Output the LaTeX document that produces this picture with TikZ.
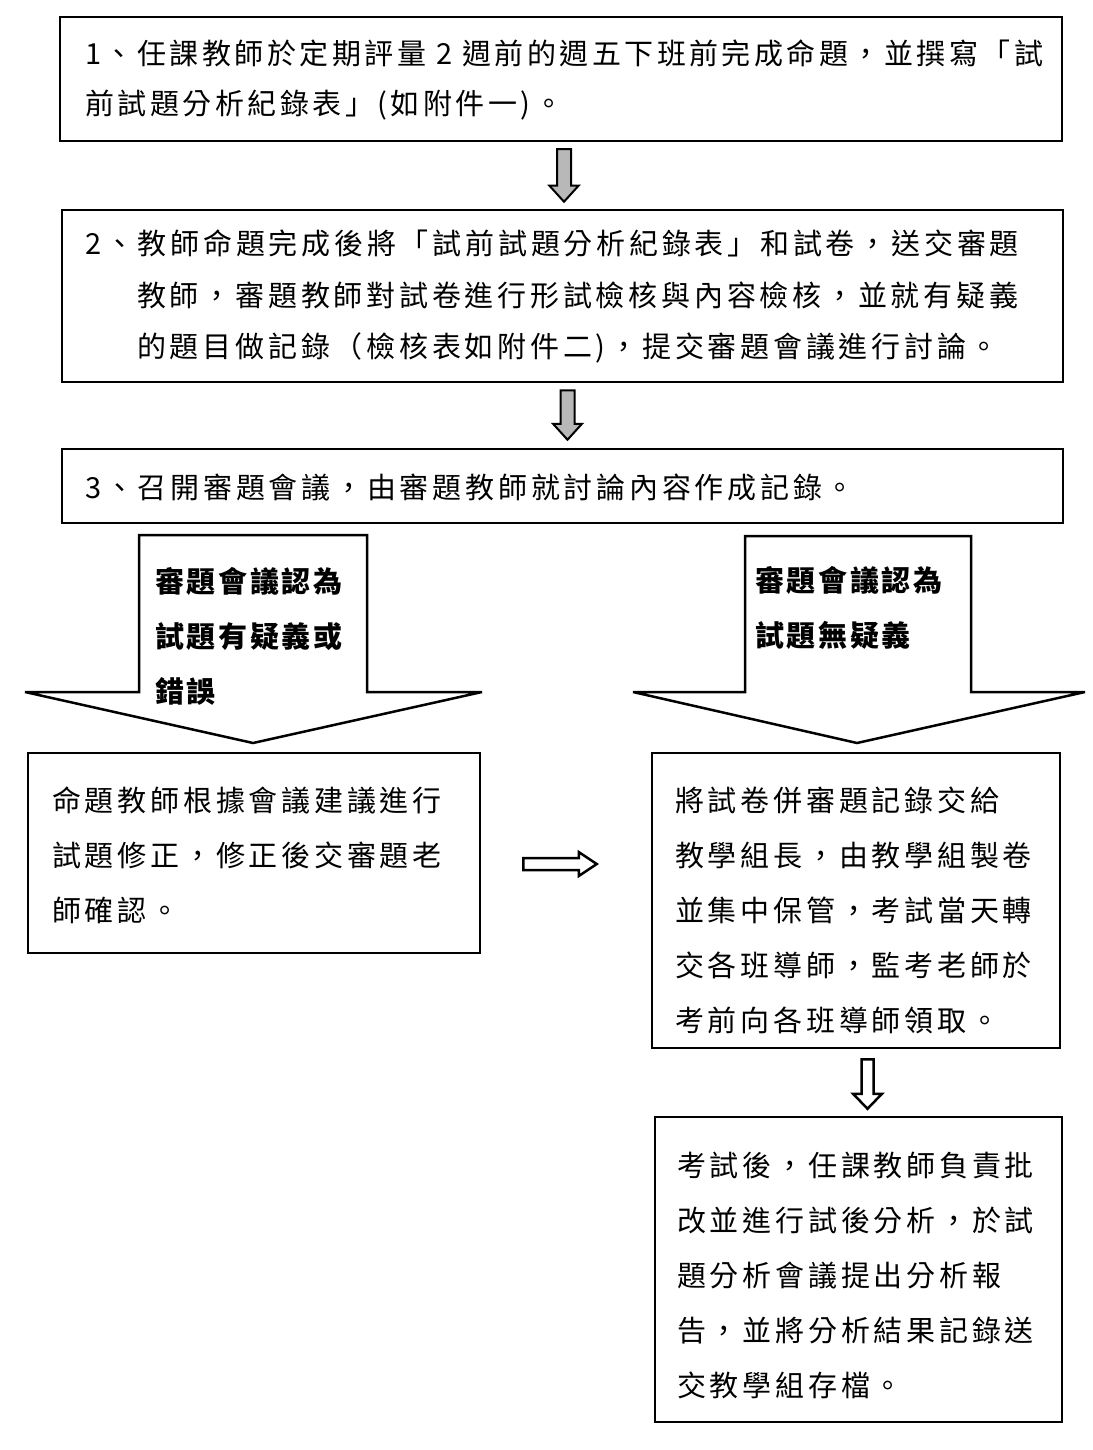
\documentclass[tikz,border=0pt]{standalone}
\usepackage{fontspec}
\usetikzlibrary{calc}
\newfontfamily\cjk[LetterSpace=13]{Noto Sans CJK TC}
\newfontfamily\cjkone[LetterSpace=12]{Noto Sans CJK TC}
\newfontfamily\cjkhead[LetterSpace=9,UprightFont=* Black,BoldFont=* Black]{Noto Sans CJK TC}
\definecolor{arrowgray}{gray}{0.72}
\newcommand\fatdown[6]{%
  \path[#6] let \p1=(#1), \p2=(#2) in
    (\x1-#3,\y1) -- (\x1+#3,\y1) -- (\x1+#3,\y2+#5) -- (\x1+#4,\y2+#5) --
    (\x1,\y2) -- (\x1-#4,\y2+#5) -- (\x1-#3,\y2+#5) -- cycle;}
\newcommand\fatright[6]{%
  \path[#6] let \p1=(#1), \p2=(#2) in
    (\x1,\y1+#3) -- (\x2-#5,\y1+#3) -- (\x2-#5,\y1+#4) -- (\x2,\y1) --
    (\x2-#5,\y1-#4) -- (\x2-#5,\y1-#3) -- (\x1,\y1-#3) -- cycle;}
\begin{document}
\begin{tikzpicture}[x=1pt,y=-1pt,
  box/.style={draw, line width=2.5pt, rectangle, inner sep=0pt},
  txt/.style={inner sep=0pt, align=left, anchor=west,
    font=\cjk\fontsize{29}{55}\selectfont},
  headtxt/.style={inner sep=0pt, align=left, anchor=west,
    font=\cjkhead\fontsize{29}{55}\selectfont},
  callout/.style={draw, line width=2.5pt, fill=white, line join=miter, miter limit=4},
  grayarrow/.style={draw, line width=2pt, fill=arrowgray, line join=miter},
  hollowarrow/.style={draw, line width=2.5pt, fill=white, line join=miter}]
\useasboundingbox[fill=white] (0,0) rectangle (1092,1450);

% boxes
\node[box, minimum width=1002pt, minimum height=124pt] (b1) at (561,79) {};
\node[box, minimum width=1001pt, minimum height=172pt] (b2) at (562.5,296) {};
\node[box, minimum width=1001pt, minimum height=74pt] (b3) at (562.5,486) {};
\node[box, minimum width=452pt, minimum height=200pt] (lbox) at (254,853) {};
\node[box, minimum width=408pt, minimum height=295pt] (rbox) at (856,900.5) {};
\node[box, minimum width=407pt, minimum height=305pt] (bbox) at (858.5,1269.5) {};

% texts
\node[txt, font=\cjkone\fontsize{29}{50}\selectfont] (t1) at (85,80)
  {1、任課教師於定期評量 2 週前的週五下班前完成命題，並撰寫「試\\前試題分析紀錄表」(如附件一)。};
\node[txt, font=\cjk\fontsize{29}{51.5}\selectfont] (t2) at (85,296.5)
  {2、教師命題完成後將「試前試題分析紀錄表」和試卷，送交審題\\
   \hspace*{52pt}教師，審題教師對試卷進行形試檢核與內容檢核，並就有疑義\\
   \hspace*{52pt}的題目做記錄（檢核表如附件二)，提交審題會議進行討論。};
\node[txt] (t3) at (85,487) {3、召開審題會議，由審題教師就討論內容作成記錄。};
\node[txt] (tl) at (52,855)
  {命題教師根據會議建議進行\\試題修正，修正後交審題老\\師確認。};
\node[txt] (tr) at (675,910)
  {將試卷併審題記錄交給\\教學組長，由教學組製卷\\並集中保管，考試當天轉\\交各班導師，監考老師於\\考前向各班導師領取。};
\node[txt] (tb) at (677,1275)
  {考試後，任課教師負責批\\改並進行試後分析，於試\\題分析會議提出分析報\\告，並將分析結果記錄送\\交教學組存檔。};

% callout arrows
\draw[callout] (139,535) -- (367,535) -- (367,692) -- (482,692) -- (253,743)
  -- (25,692) -- (139,692) -- cycle;
\node[headtxt] (cl) at (155,636) {審題會議認為\\試題有疑義或\\錯誤};
\draw[callout] (745,536) -- (971,536) -- (971,692) -- (1085,692) -- (857,743)
  -- (633,692) -- (745,692) -- cycle;
\node[headtxt] (cr) at (755,608) {審題會議認為\\試題無疑義};

% connectors
\fatdown{$(b1.south)+(3,7)$}{$(b2.north)+(3,-7)$}{7pt}{14.5pt}{16pt}{grayarrow}
\fatdown{$(b2.south)+(5,7)$}{$(b3.north)+(5,-8)$}{7pt}{14.5pt}{16pt}{grayarrow}
\fatright{$(lbox.east)+(42,11)$}{$(rbox.west)+(-54,0)$}{6pt}{12pt}{18pt}{hollowarrow}
\fatdown{$(rbox.south)+(11.5,10)$}{$(bbox.north)+(9,-7)$}{6pt}{14.5pt}{15pt}{hollowarrow}
\end{tikzpicture}
\end{document}
